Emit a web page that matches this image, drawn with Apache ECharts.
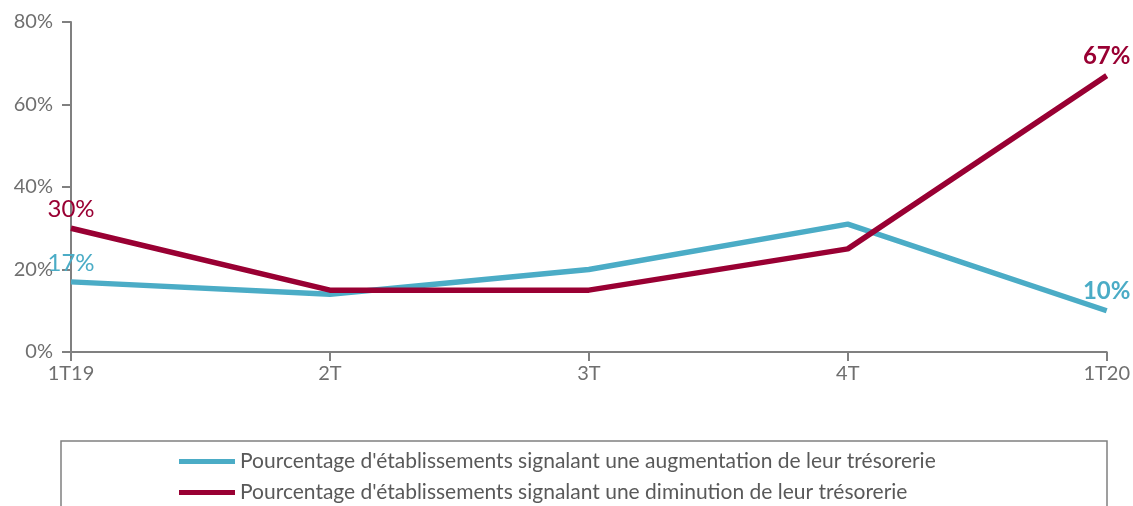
<!DOCTYPE html>
<html><head><meta charset="utf-8">
<script src="https://cdn.jsdelivr.net/npm/echarts@6/dist/echarts.min.js"></script>
<style>html,body{margin:0;padding:0;background:#fff}#c{width:1133px;height:506px}</style>
</head><body><div id="c"></div>
<script>
const categories = ['1T19', '2T', '3T', '4T', '1T20'];
const augmentation = [17, 14, 20, 31, 10];
const diminution = [30, 15, 15, 25, 67];
const yTicks = [0, 20, 40, 60, 80];
const seriesNames = [
  "Pourcentage d'établissements signalant une augmentation de leur trésorerie",
  "Pourcentage d'établissements signalant une diminution de leur trésorerie"
];
const teal = '#4bacc6', red = '#990033';
const chart = echarts.init(document.getElementById('c'));
function mk(name, data, color, z) {
  return {
    name, type: 'line', z,
    data: data.map((v, i) => {
      const first = i === 0, last = i === data.length - 1;
      return {
        value: v,
        label: {
          show: first || last, position: 'top', distance: 7,
          color: color, fontFamily: 'Lato', fontSize: 24,
          fontWeight: last ? 'bold' : 'normal',
          formatter: p => p.value + '%'
        }
      };
    }),
    symbol: 'circle', symbolSize: 0, showSymbol: true,
    lineStyle: { color, width: 5.5 }, itemStyle: { color },
    label: { show: false }
  };
}
const legendBase = {
  orient: 'horizontal', left: 174, itemWidth: 56, itemHeight: 5, icon: 'rect',
  textStyle: { color: '#595959', fontSize: 21, fontFamily: 'Lato', padding: 0 }
};
chart.setOption({
  animation: false,
  textStyle: { fontFamily: 'Lato' },
  grid: { left: 71, right: 26, top: 22, bottom: 154, containLabel: false },
  xAxis: {
    type: 'category', data: categories, boundaryGap: false,
    axisLine: { lineStyle: { color: '#808080', width: 2 } },
    axisTick: { show: true, alignWithLabel: true, length: 9, lineStyle: { color: '#808080', width: 2 } },
    axisLabel: { color: '#6f6f6f', fontSize: 20, fontFamily: 'Lato', margin: 12 },
    splitLine: { show: false }
  },
  yAxis: {
    type: 'value', min: 0, max: 80, interval: 20,
    axisLine: { show: true, lineStyle: { color: '#808080', width: 2 } },
    axisTick: { show: true, length: 9, lineStyle: { color: '#808080', width: 2 } },
    axisLabel: { color: '#6f6f6f', fontSize: 20, fontFamily: 'Lato', margin: 18,
      formatter: v => yTicks.includes(v) ? v + '%' : '' },
    splitLine: { show: false }
  },
  legend: [
    Object.assign({}, legendBase, { top: 446, data: [seriesNames[0]] }),
    Object.assign({}, legendBase, { top: 477, data: [seriesNames[1]] })
  ],
  graphic: [{
    type: 'rect', shape: { x: 61, y: 441, width: 1046, height: 80 },
    style: { fill: 'none', stroke: '#808080', lineWidth: 1.5 }
  }],
  series: [
    mk(seriesNames[0], augmentation, teal, 2),
    mk(seriesNames[1], diminution, red, 3)
  ]
});
</script></body></html>
